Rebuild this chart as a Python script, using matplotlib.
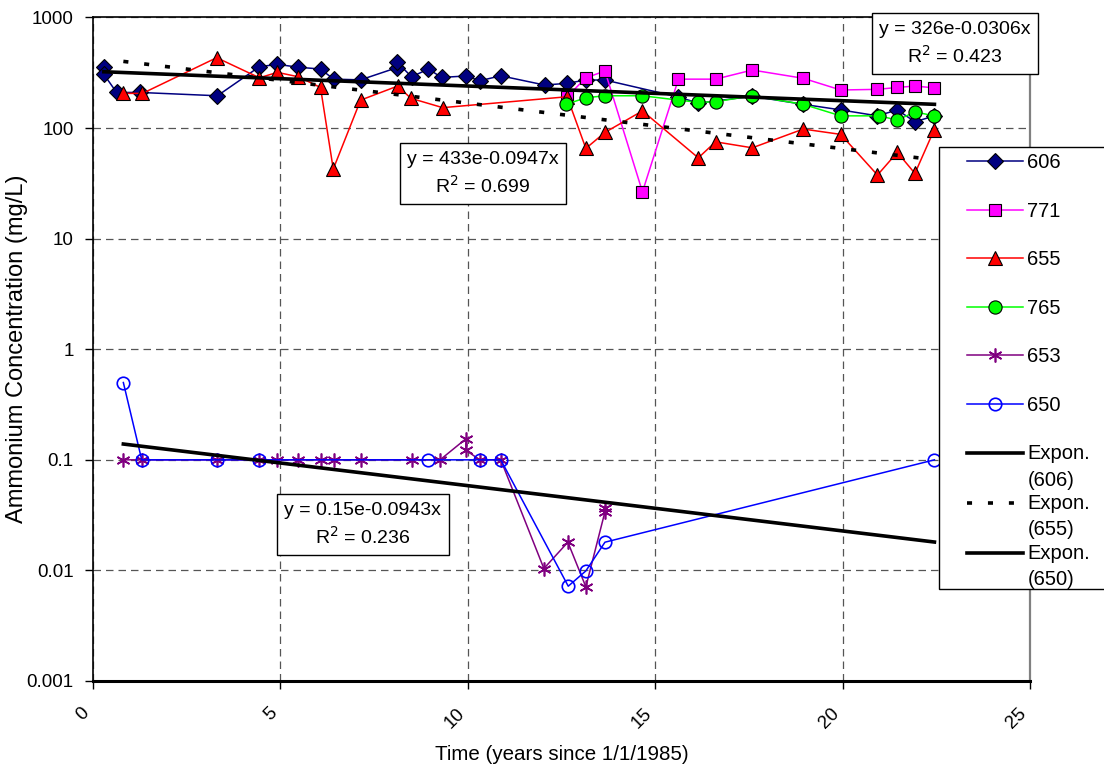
import numpy as np
import matplotlib
matplotlib.use("Agg")
from matplotlib import pyplot as plt
from matplotlib.ticker import FixedLocator, FixedFormatter, NullLocator
import matplotlib.patches as mpatches

plt.rcParams['font.family'] = ['Liberation Sans', 'DejaVu Sans']

# ammonium (mg/L) per well, time in years since 1/1/1985
x606 = [0.29, 0.29, 0.63, 1.25, 3.32, 4.44, 4.92, 5.48, 6.07, 6.42, 7.14, 8.10, 8.10, 8.50,
        8.95, 9.30, 9.95, 10.32, 10.88, 12.05, 12.65, 13.15, 13.66, 15.62, 16.15, 17.59,
        18.95, 19.95, 20.93, 21.46, 21.93, 22.45]
y606 = [359, 306, 210, 210, 196, 359, 377, 355, 342, 277, 273, 351, 398, 291,
        342, 287, 296, 268, 297, 245, 254, 272, 272, 191, 168, 194,
        164, 146, 129, 146, 114, 129]

x771 = [12.65, 13.15, 13.66, 14.66, 15.62, 16.61, 17.59, 18.95, 19.95, 20.93, 21.46, 21.93, 22.45]
y771 = [192, 285, 328, 26.5, 277, 277, 335, 282, 221, 224, 233, 240, 231]

x655 = [0.81, 1.32, 3.30, 4.44, 4.92, 5.48, 6.07, 6.41, 7.14, 8.13, 8.48, 9.33, 12.65,
        13.15, 13.66, 14.66, 16.15, 16.61, 17.59, 18.95, 19.95, 20.93, 21.46, 21.93, 22.44]
y655 = [206, 206, 433, 285, 319, 291, 233, 42.6, 179, 240, 186, 153, 192,
        65.5, 91.4, 143, 53.8, 75.1, 66.3, 98, 87.7, 37.6, 60.3, 38.9, 96]

x765 = [12.62, 13.15, 13.66, 14.66, 15.62, 16.15, 16.61, 17.59, 18.95, 19.95, 20.98, 21.46, 21.93, 22.45]
y765 = [164, 188, 196, 196, 179, 171, 173, 196, 164, 129, 129, 118, 140, 129]

x653 = [0.81, 1.30, 3.30, 4.44, 4.92, 5.48, 6.07, 6.42, 7.14, 8.50, 9.26, 9.95, 9.95,
        10.32, 10.88, 12.03, 12.67, 13.15, 13.66, 13.66]
y653 = [0.1, 0.1, 0.1, 0.1, 0.1, 0.1, 0.1, 0.1, 0.1, 0.1, 0.1, 0.155, 0.122,
        0.1, 0.1, 0.0104, 0.018, 0.0071, 0.034, 0.037]

x650 = [0.81, 1.30, 3.30, 4.44, 8.95, 10.32, 10.88, 12.68, 13.15, 13.66, 22.45]
y650 = [0.5, 0.1, 0.1, 0.1, 0.1, 0.1, 0.1, 0.0072, 0.0099, 0.018, 0.1]

# exponential trendlines as printed on the chart: y = a*exp(b*x), R^2
trend_606 = (326, -0.0306, 0.423)
trend_655 = (433, -0.0947, 0.699)
trend_650 = (0.15, -0.0943, 0.236)

yticks = [0.001, 0.01, 0.1, 1, 10, 100, 1000]
ytick_labels = ['0.001', '0.01', '0.1', '1', '10', '100', '1000']
xticks = [0, 5, 10, 15, 20, 25]

W, H = 1104, 765
fig = plt.figure(figsize=(W / 100, H / 100), dpi=100)
ax = fig.add_axes([93 / W, 1 - 681 / H, (1030 - 93) / W, (681 - 17.5) / H])

series = [
    ("606", x606, y606, dict(color="#000080", marker="D", ms=8.5, mfc="#000080", mec="black", mew=0.8)),
    ("771", x771, y771, dict(color="#FF00FF", marker="s", ms=9, mfc="#FF00FF", mec="black", mew=0.8)),
    ("655", x655, y655, dict(color="#FF0000", marker="^", ms=10.5, mfc="#FF0000", mec="black", mew=0.8)),
    ("765", x765, y765, dict(color="#00FF00", marker="o", ms=9.5, mfc="#00FF00", mec="black", mew=0.8)),
    ("653", x653, y653, dict(color="#800080", marker=(6, 2, 0), ms=10, mec="#800080", mew=1.2)),
    ("650", x650, y650, dict(color="#0000FF", marker="o", ms=9, mfc="none", mec="#0000FF", mew=1.2)),
]
lines = []
for name, xs, ys, st in series:
    ln, = ax.plot(xs, ys, lw=1.1, label=name, **st)
    lines.append(ln)

trend_lines = []
for xs, (a, b, r2), ls in [(x606, trend_606, '-'), (x655, trend_655, (0, (1.4, 4.4))), (x650, trend_650, '-')]:
    xt = np.array([min(xs), max(xs)])
    tl, = ax.plot(xt, a * np.exp(b * xt), color='black', lw=2.6, ls=ls, zorder=5)
    trend_lines.append(tl)

# equation boxes
boxes = [(trend_606, 0.9196, 0.9604), (trend_655, 0.4165, 0.7644), (trend_650, 0.2879, 0.2356)]
for (a, b, r2), bx, by in boxes:
    ax.text(bx, by, f"y = {a:g}e{b:g}x\nR$^2$ = {r2:.3f}", transform=ax.transAxes,
            ha='center', va='center', multialignment='center', fontsize=14, linespacing=1.4,
            bbox=dict(boxstyle='square,pad=0.38', fc='white', ec='black', lw=1), zorder=6)

ax.set_yscale('log')
ax.set_ylim(0.001, 1000)
ax.set_xlim(0, 25)
ax.yaxis.set_major_locator(FixedLocator(yticks))
ax.yaxis.set_major_formatter(FixedFormatter(ytick_labels))
ax.yaxis.set_minor_locator(NullLocator())
ax.set_xticks(xticks)
ax.set_xticklabels([str(v) for v in xticks], rotation=45, ha='right', va='top')
ax.tick_params(axis='both', labelsize=13.5, length=6, width=1, direction='out')
ax.tick_params(axis='x', pad=11)
ax.tick_params(axis='y', pad=8)

ax.grid(True, ls=(0, (6, 4)), color='#555555', lw=0.9)
ax.set_axisbelow(True)
for s in ['left', 'top']:
    ax.spines[s].set_linewidth(1.2)
ax.spines['bottom'].set_linewidth(2.2)
ax.spines['right'].set_color('#808080')
ax.spines['right'].set_linewidth(1.6)

ax.set_xlabel("Time (years since 1/1/1985)", fontsize=14.8, labelpad=10)
ax.set_ylabel("Ammonium Concentration (mg/L)", fontsize=17)
ax.yaxis.set_label_coords(-0.069, 0.5)

# legend box
fig.add_artist(mpatches.Rectangle((939 / W, 1 - 589 / H), 0.2, 442 / H, transform=fig.transFigure,
                                  fc='white', ec='black', lw=1))
leg1 = fig.legend(handles=lines, labels=[s[0] for s in series], loc='upper left',
                  bbox_to_anchor=(967 / W, 1 - 153 / H), frameon=False, fontsize=14.5,
                  handlelength=2.8, handletextpad=0.2, labelspacing=1.47, borderpad=0, borderaxespad=0)
leg2 = fig.legend(handles=trend_lines, labels=["Expon.\n(606)", "Expon.\n(655)", "Expon.\n(650)"],
                  loc='upper left', bbox_to_anchor=(967 / W, 1 - 444 / H), frameon=False, fontsize=14.5,
                  handlelength=2.8, handletextpad=0.2, labelspacing=0.22, borderpad=0, borderaxespad=0)
for t in leg2.get_texts():
    t.set_linespacing(1.5)
# Excel puts the trendline swatch next to the first line of the label
for h in leg2.legend_handles:
    h.set_ydata(np.asarray(h.get_ydata()) + 10)

fig.savefig("out.png", dpi=100)
